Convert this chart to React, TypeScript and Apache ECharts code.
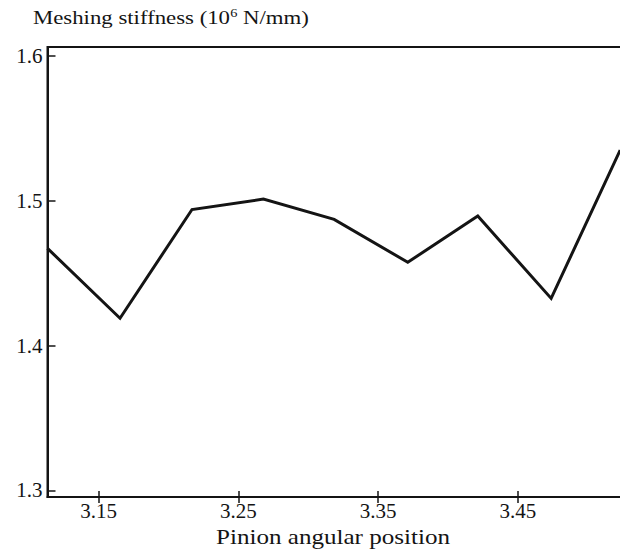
import React, { useEffect, useRef } from "react";
import * as echarts from "echarts";

const angularPosition = [3.1135, 3.1654, 3.2169, 3.268, 3.3186, 3.3713, 3.4214, 3.4739, 3.5233];
const stiffness = [1.467, 1.4188, 1.4938, 1.501, 1.487, 1.4574, 1.4893, 1.4325, 1.5348];
const xTickValues = [3.15, 3.25, 3.35, 3.45];
const yTickValues = [1.3, 1.4, 1.5, 1.6];
const xRange = [3.1135, 3.55];
const yRange = [1.2955, 1.6059];
const yTitle = "Meshing stiffness (10{sup|6} N/mm)";
const xTitle = "Pinion angular position";

const FONT = '"Liberation Serif", "Times New Roman", serif';
const INK = "#141414";

export default function App() {
  const ref = useRef<HTMLDivElement>(null);
  useEffect(() => {
    document.body.style.margin = "0";
    const chart = echarts.init(ref.current!, undefined, { renderer: "svg" });
    const data = angularPosition.map((x, i) => [x, stiffness[i]]);
    const baseX = {
      type: "value",
      min: xRange[0],
      max: xRange[1],
      position: "bottom",
      splitLine: { show: false },
    };
    chart.setOption({
      animation: false,
      backgroundColor: "#ffffff",
      grid: {
        left: 47.5,
        top: 47,
        width: 610,
        height: 450,
        show: true,
        borderColor: INK,
        borderWidth: 2,
        containLabel: false,
        outerBoundsMode: "none",
      },
      xAxis: [
        {
          ...baseX,
          axisLine: { show: true, lineStyle: { color: INK, width: 2 } },
          axisTick: { show: true, inside: true, length: 6, customValues: xTickValues, lineStyle: { color: INK, width: 1.5 } },
          axisLabel: {
            show: true,
            customValues: xTickValues,
            formatter: (v: number) => v.toFixed(2),
            color: INK,
            fontFamily: FONT,
            fontSize: 21,
            margin: 3,
          },
        },
        {
          ...baseX,
          axisLine: { show: false },
          axisTick: { show: true, inside: false, length: 6, customValues: xTickValues, lineStyle: { color: INK, width: 1.5 } },
          axisLabel: { show: false },
        },
      ],
      yAxis: {
        type: "value",
        min: yRange[0],
        max: yRange[1],
        splitLine: { show: false },
        axisLine: { show: true, lineStyle: { color: INK, width: 2 } },
        axisTick: { show: true, inside: true, length: 8, customValues: yTickValues, lineStyle: { color: INK, width: 1.5 } },
        axisLabel: {
          show: true,
          customValues: yTickValues,
          formatter: (v: number) => v.toFixed(1),
          color: INK,
          fontFamily: FONT,
          fontSize: 21,
          margin: 5,
          padding: [8, 0, 0, 0],
        },
      },
      series: [
        {
          type: "line",
          data,
          xAxisIndex: 0,
          symbol: "none",
          clip: true,
          lineStyle: { color: INK, width: 3, join: "miter" },
        },
      ],
      graphic: [
        {
          type: "text",
          x: 33,
          y: 28,
          scaleX: 1.2,
          style: {
            text: yTitle,
            fill: INK,
            fontFamily: FONT,
            fontSize: 19,
            verticalAlign: "bottom",
            rich: {
              sup: { fontSize: 12, fontFamily: FONT, fill: INK, padding: [0, 0, 9, 0] },
            },
          },
        },
        {
          type: "text",
          x: 333,
          y: 537,
          scaleX: 1.14,
          style: {
            text: xTitle,
            fill: INK,
            fontFamily: FONT,
            fontSize: 22,
            align: "center",
            verticalAlign: "middle",
          },
        },
      ],
    });
    return () => chart.dispose();
  }, []);
  return <div ref={ref} style={{ position: "absolute", left: 0, top: 0, width: 620, height: 552 }} />;
}
